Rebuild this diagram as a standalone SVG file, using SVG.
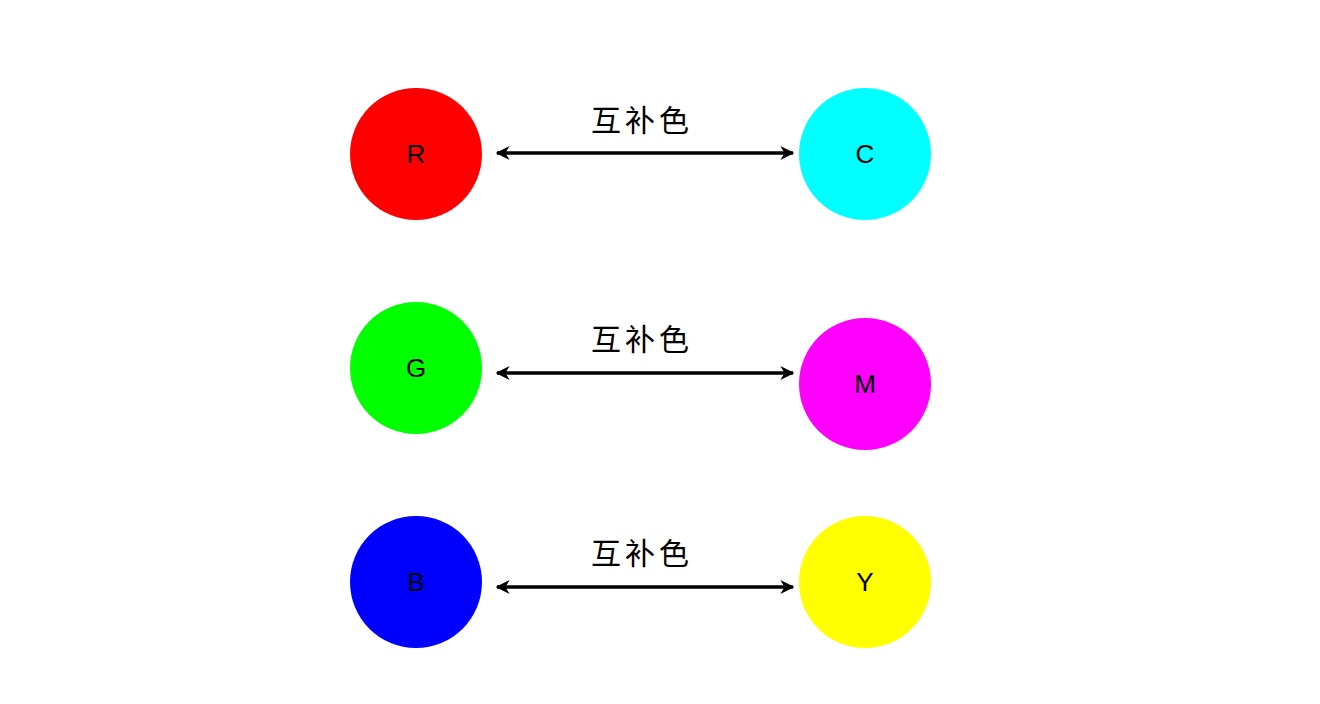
<svg xmlns="http://www.w3.org/2000/svg" width="1320" height="704" viewBox="0 0 1320 704">
<style>
.lbl{font-family:"Liberation Sans",Arial,sans-serif;font-size:26px;fill:#000;text-anchor:middle;dominant-baseline:central}
.cn{font-family:"Noto Sans CJK SC",sans-serif;font-size:30px;fill:#000;text-anchor:middle;letter-spacing:4px}
.ln{stroke:#000;stroke-width:3.5;fill:none;marker-start:url(#a);marker-end:url(#a)}
</style>
<defs><marker id="a" viewBox="0 0 10 10" refX="9" refY="5" markerWidth="5" markerHeight="4" orient="auto-start-reverse" markerUnits="strokeWidth"><path d="M0,0 L10,5 L0,10 L3,5z" fill="#000"/></marker></defs>
<rect width="1320" height="704" fill="#fff"/>
<g id="R"><circle cx="416" cy="154" r="66" fill="#f00"/><text class="lbl" x="416" y="154">R</text></g>
<g id="C"><circle cx="865" cy="154" r="66" fill="#0ff"/><text class="lbl" x="865" y="154">C</text></g>
<g id="G"><circle cx="416" cy="368" r="66" fill="#0f0"/><text class="lbl" x="416" y="368">G</text></g>
<g id="M"><circle cx="865" cy="384" r="66" fill="#f0f"/><text class="lbl" x="865" y="384">M</text></g>
<g id="B"><circle cx="416" cy="582" r="66" fill="#00f"/><text class="lbl" x="416" y="582">B</text></g>
<g id="Y"><circle cx="865" cy="582" r="66" fill="#ff0"/><text class="lbl" x="865" y="582">Y</text></g>
<g id="connectors">
<line class="ln" x1="497" y1="153" x2="793" y2="153"/>
<line class="ln" x1="497" y1="373" x2="793" y2="373"/>
<line class="ln" x1="497" y1="587" x2="793" y2="587"/>
<text class="cn" x="642" y="131">互补色</text>
<text class="cn" x="642" y="350">互补色</text>
<text class="cn" x="642" y="564">互补色</text>
</g>
</svg>
